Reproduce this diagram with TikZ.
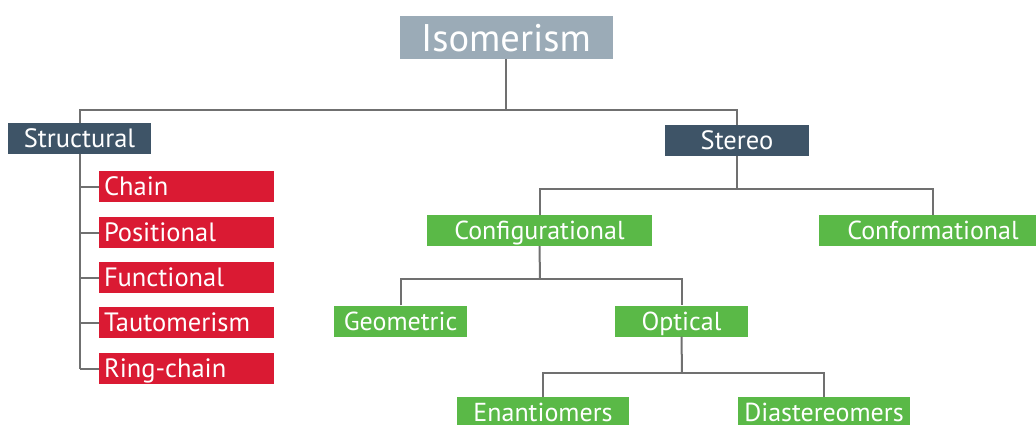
\documentclass[tikz,border=0pt]{standalone}
\usepackage{fontspec}
\setmainfont{PT Sans}
\definecolor{isogray}{HTML}{9BABB7}
\definecolor{darkslate}{HTML}{3E5467}
\definecolor{boxred}{HTML}{DA1A33}
\definecolor{boxgreen}{HTML}{5AB947}
\definecolor{linegray}{HTML}{707070}
\tikzset{
  base/.style={inner xsep=0pt, inner ysep=0pt, text=white, text depth=0pt, minimum height=31pt},
  topbox/.style={base, fill=isogray, minimum width=213pt, minimum height=43pt, font=\fontsize{38.5}{42}\selectfont, text height=27pt},
  darkbox/.style={base, fill=darkslate, minimum width=144pt, font=\fontsize{26.5}{30}\selectfont, text height=18.5pt},
  redbox/.style={base, fill=boxred, text width=165pt, inner xsep=5pt, align=left, font=\fontsize{26.5}{30}\selectfont, text height=18.5pt},
  greenbox/.style={base, fill=boxgreen, font=\fontsize{26}{29}\selectfont, text height=18.2pt},
  conn/.style={draw=linegray, line width=2pt}
}
\begin{document}
\begin{tikzpicture}[x=1pt,y=-1pt]
\useasboundingbox (0,0) rectangle (1036,424);
\node[topbox] (iso) at (506,37.5) {Isomerism};
\node[darkbox, minimum width=143pt] (struct) at (79.5,138.5) {Structural};
\node[darkbox] (stereo) at (737,140.5) {Stereo};
\node[redbox] (chain) at (186.5,186.5) {Chain};
\node[redbox] (posit) at (186.5,232.5) {Positional};
\node[redbox] (funct) at (186.5,277.5) {Functional};
\node[redbox] (tauto) at (186.5,322.5) {Tautomerism};
\node[redbox] (ring) at (186.5,368.5) {Ring-chain};
\node[greenbox, minimum width=225pt] (config) at (539.5,230.5) {Configurational};
\node[greenbox, minimum width=228pt] (conform) at (933,230.5) {Conformational};
\node[greenbox, minimum width=133pt] (geom) at (400.5,321) {Geometric};
\node[greenbox, minimum width=133pt] (optic) at (681.5,321) {Optical};
\node[greenbox, minimum width=172pt] (enant) at (543,412.5) {Enantiomers};
\node[greenbox, minimum width=172pt] (diast) at (824,412.5) {Diastereomers};
\coordinate (b1) at (506,110);
\coordinate (b2) at (737,189);
\coordinate (b3) at (540,279);
\coordinate (b4) at (682,373);
\draw[conn] (iso.south) -- (b1);
\draw[conn] (struct.north) |- (b1) -| (stereo.north);
\draw[conn] (struct.south) -- (struct.south |- ring.west);
\foreach \n in {chain,posit,funct,tauto,ring} \draw[conn] (\n.west) -- (\n.west -| struct.south);
\draw[conn] (stereo.south) -- (b2);
\draw[conn] (config.north) |- (b2) -| (conform.north);
\draw[conn] (config.south) -- (b3);
\draw[conn] (geom.north) |- (b3) -| (optic.north);
\draw[conn] (optic.south) -- (b4);
\draw[conn] (enant.north) |- (b4) -| (diast.north);
\end{tikzpicture}
\end{document}
